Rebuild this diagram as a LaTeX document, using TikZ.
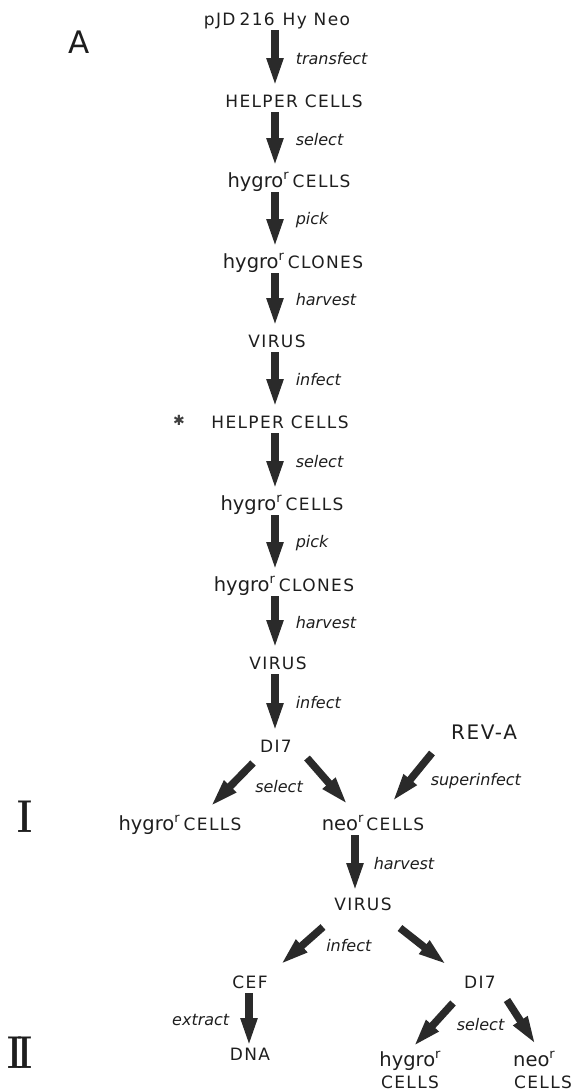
\documentclass[tikz,border=0pt]{standalone}
\usepackage{fontspec}
\usetikzlibrary{arrows.meta}

\newfontfamily\capsfont[LetterSpace=8]{DejaVu Sans}
\newfontfamily\lowfont{DejaVu Sans}
\newfontfamily\labfont{DejaVu Sans}

\definecolor{ink}{HTML}{1E1E1E}
\definecolor{arrowink}{HTML}{2A2A2A}

% lettering helpers
\newcommand\Caps[1]{{\capsfont\fontsize{17}{18}\selectfont #1}}
\newcommand\Low[1]{{\lowfont\fontsize{19.5}{20}\selectfont #1}}
\newcommand\Rsup{\raisebox{8pt}{\lowfont\fontsize{13}{13}\selectfont r}}
\newcommand\hyg{\Low{hygro}\Rsup}
\newcommand\Numeral[1]{{\rmfamily\bfseries\fontsize{46}{46}\selectfont\scalebox{0.78}[1]{#1}}}

\tikzset{
  txt/.style={inner sep=0pt, anchor=base, text=ink},
  lab/.style={inner sep=0pt, text=ink, font=\labfont\itshape\fontsize{16}{18}\selectfont},
  flow/.style={draw=arrowink, line width=7.5pt, -{Triangle[length=29pt,width=15pt]}},
}

\begin{document}
\begin{tikzpicture}[x=1pt,y=-1pt]
\useasboundingbox[fill=white] (0,0) rectangle (571,1090);
\coordinate (col) at (275,0);

% panel letter and stage numerals
\node[txt] (A) at (79,53) {\lowfont\fontsize{31}{31}\selectfont A};
\node[txt] (stI) at (25,832) {\Numeral{I}};
\node[txt] (stII) at (20,1068) {\Numeral{I\kern-6pt I}};

% main column
\node[txt] (pjd) at (277,25) {\Caps{pJD\hspace{4pt}216\hspace{8pt}Hy Neo}};
\node[txt] (help1) at (294,107) {\Caps{HELPER CELLS}};
\node[txt] (hyc1) at (289,187) {\hyg\hspace{4pt}\Caps{CELLS}};
\node[txt] (hycl1) at (293,268) {\hyg\hspace{4pt}\Caps{CLONES}};
\node[txt] (vir1) at (277,347) {\Caps{VIRUS}};
\node[inner sep=0pt, text=ink!85] (star) at (179,420) {\lowfont\fontsize{14}{14}\selectfont ✱};
\node[txt] (help2) at (280,428) {\Caps{HELPER CELLS}};
\node[txt] (hyc2) at (282,510) {\hyg\hspace{4pt}\Caps{CELLS}};
\node[txt] (hycl2) at (284,591) {\hyg\hspace{4pt}\Caps{CLONES}};
\node[txt] (vir2) at (278,669) {\Caps{VIRUS}};
\node[txt] (di7a) at (276,752) {\Caps{DI7}};

% stage I
\node[txt] (reva) at (484,739) {\capsfont\fontsize{20}{22}\selectfont REV-A};
\node[txt] (hycI) at (180,830) {\hyg\hspace{4pt}\Caps{CELLS}};
\node[txt] (neoI) at (373,830) {\Low{neo}\Rsup\hspace{3pt}\Caps{CELLS}};
\node[txt] (vir3) at (363,910) {\Caps{VIRUS}};
\node[txt] (cef) at (250,988) {\Caps{CEF}};
\node[txt] (di7b) at (480,988) {\Caps{DI7}};

% stage II
\node[txt] (dna) at (250,1060) {\Caps{DNA}};
\node[txt] (hyIIa) at (410,1066) {\hyg};
\node[txt] (hyIIb) at (410,1088) {\Caps{CELLS}};
\node[txt] (neoIIa) at (534,1066) {\Low{neo}\Rsup};
\node[txt] (neoIIb) at (543,1088) {\Caps{CELLS}};

% vertical steps of the main column
\draw[flow] ([yshift=-5pt]pjd.base -| col) -- ([yshift=20pt]help1.base -| col)
  node[lab,midway,anchor=west,xshift=17pt]{transfect};
\draw[flow] ([yshift=-5pt]help1.base -| col) -- ([yshift=20pt]hyc1.base -| col)
  node[lab,midway,anchor=west,xshift=17pt]{select};
\draw[flow] ([yshift=-5pt]hyc1.base -| col) -- ([yshift=20pt]hycl1.base -| col)
  node[lab,midway,anchor=west,xshift=17pt]{pick};
\draw[flow] ([yshift=-5pt]hycl1.base -| col) -- ([yshift=20pt]vir1.base -| col)
  node[lab,midway,anchor=west,xshift=17pt]{harvest};
\draw[flow] ([yshift=-5pt]vir1.base -| col) -- ([yshift=20pt]help2.base -| col)
  node[lab,midway,anchor=west,xshift=17pt]{infect};
\draw[flow] ([yshift=-5pt]help2.base -| col) -- ([yshift=20pt]hyc2.base -| col)
  node[lab,midway,anchor=west,xshift=17pt]{select};
\draw[flow] ([yshift=-5pt]hyc2.base -| col) -- ([yshift=20pt]hycl2.base -| col)
  node[lab,midway,anchor=west,xshift=17pt]{pick};
\draw[flow] ([yshift=-5pt]hycl2.base -| col) -- ([yshift=20pt]vir2.base -| col)
  node[lab,midway,anchor=west,xshift=17pt]{harvest};
\draw[flow] ([yshift=-5pt]vir2.base -| col) -- ([yshift=20pt]di7a.base -| col)
  node[lab,midway,anchor=west,xshift=17pt]{infect};

% branching into stage I
\draw[flow] ([xshift=-23pt,yshift=-11pt]di7a.base) -- ([xshift=30pt,yshift=23pt]hycI.base)
  node[lab,midway,anchor=west,xshift=20pt,yshift=-2pt]{select};
\draw[flow] ([xshift=31pt,yshift=-6pt]di7a.base) -- ([xshift=-25pt,yshift=25pt]neoI.base);
\draw[flow] ([xshift=-52pt,yshift=-14pt]reva.base) -- ([xshift=19pt,yshift=28pt]neoI.base)
  node[lab,midway,anchor=west,xshift=15pt,yshift=-4pt]{superinfect};
\draw[flow] ([xshift=-18pt,yshift=-5pt]neoI.base) -- ([xshift=-8pt,yshift=18pt]vir3.base)
  node[lab,midway,anchor=west,xshift=15pt]{harvest};
\draw[flow] ([xshift=-40pt,yshift=-17pt]vir3.base) -- ([xshift=30pt,yshift=23pt]cef.base)
  node[lab,midway,anchor=west,xshift=21pt]{infect};
\draw[flow] ([xshift=37pt,yshift=-18pt]vir3.base) -- ([xshift=-33pt,yshift=23pt]di7b.base);

% stage II
\draw[flow] ([xshift=-1pt,yshift=-5pt]cef.base) -- ([xshift=-1pt,yshift=13pt]dna.base)
  node[lab,midway,anchor=east,xshift=-16pt]{extract};
\draw[flow] ([xshift=-27pt,yshift=-15pt]di7b.base) -- ([xshift=3pt,yshift=19pt]hyIIa.base)
  node[lab,midway,anchor=west,xshift=20pt]{select};
\draw[flow] ([xshift=27pt,yshift=-12pt]di7b.base) -- ([xshift=2pt,yshift=21pt]neoIIa.base);
\end{tikzpicture}
\end{document}
